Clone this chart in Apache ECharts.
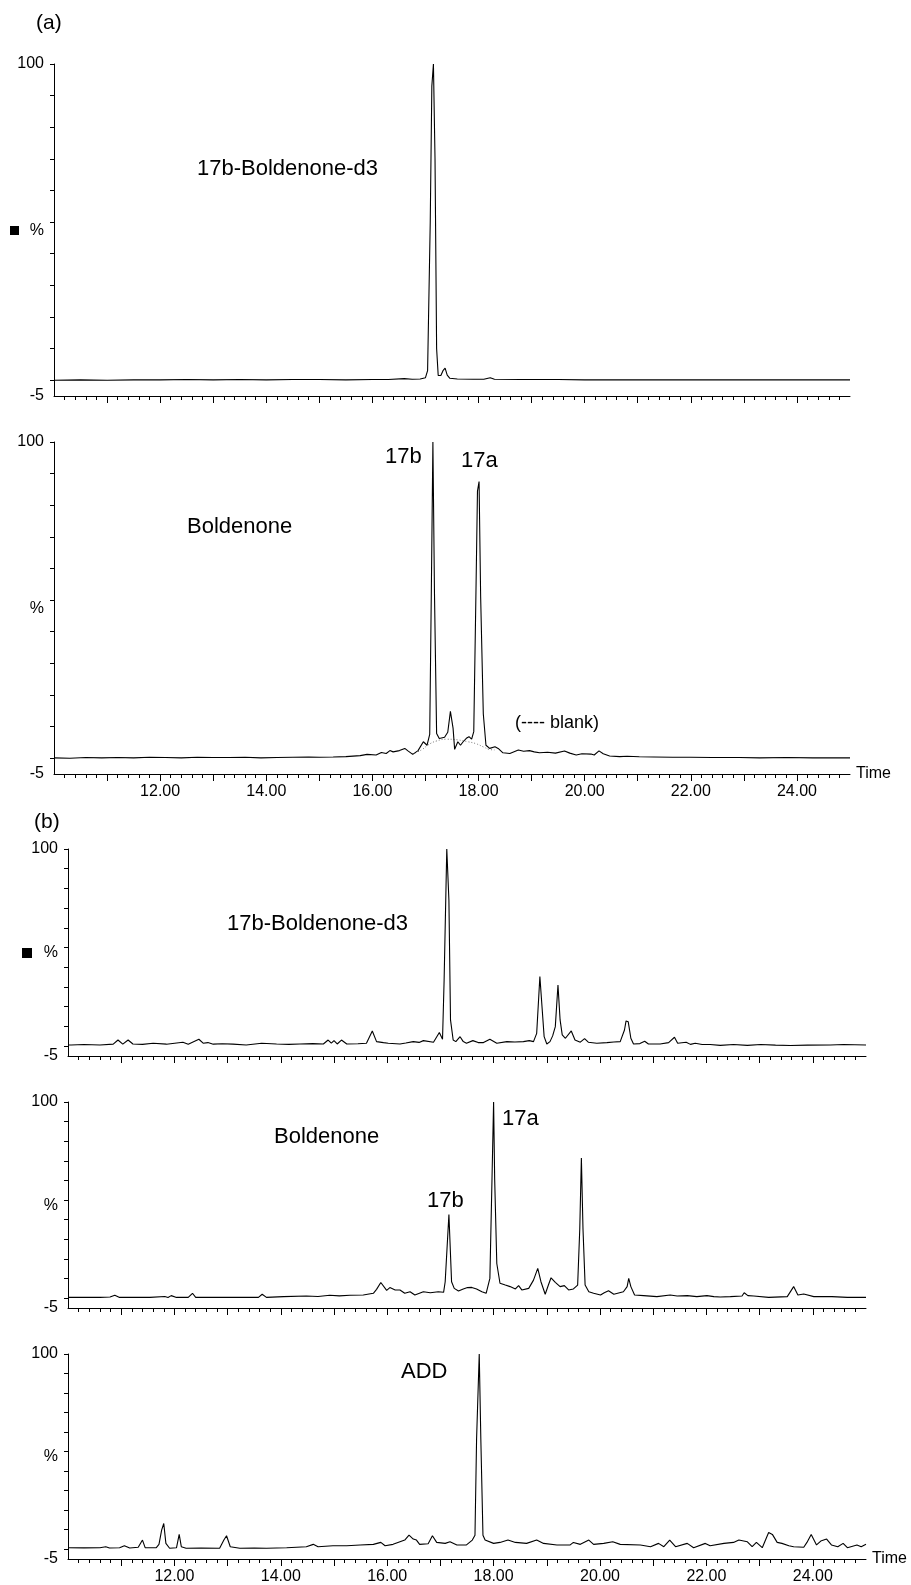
<!DOCTYPE html>
<html>
<head>
<meta charset="utf-8">
<script src="https://cdn.jsdelivr.net/npm/echarts@6/dist/echarts.min.js"></script>
<style>
  html, body { margin: 0; padding: 0; background: #fff; }
  #chart { width: 911px; height: 1585px; }
</style>
</head>
<body>
<div id="chart"></div>
<script>
// ---- Data (time in min, intensity in %) ----
const a1Trace = [
  [10.0,0],[10.5,0.1],[11.0,0],[11.5,0.1],[12.0,0.1],[12.5,0.2],[13.0,0.1],[13.5,0.2],[14.0,0.1],[14.5,0.2],
  [15.0,0.2],[15.5,0.1],[16.0,0.2],[16.3,0.2],[16.6,0.5],[16.75,0.3],[16.9,0.4],[17.0,0.8],[17.04,3],
  [17.09,50],[17.12,93],[17.15,100],[17.18,70],[17.21,10],[17.24,1.5],[17.29,1.5],[17.33,3],[17.37,3.8],
  [17.41,1.6],[17.46,0.6],[17.6,0.4],[17.9,0.3],[18.1,0.3],[18.22,0.8],[18.3,0.3],[18.8,0.2],[19.5,0.2],
  [20.0,0.1],[21.0,0.1],[22.0,0.1],[23.0,0.1],[24.0,0.1],[25.0,0.1]
];
const a2Trace = [
  [10.0,0.1],[10.3,0.0],[10.6,0.2],[10.9,0.1],[11.2,0.2],[11.5,0.1],[11.8,0.3],[12.1,0.2],[12.4,0.1],[12.7,0.3],
  [13.0,0.2],[13.3,0.2],[13.6,0.3],[13.9,0.1],[14.2,0.2],[14.5,0.3],[14.8,0.4],[15.0,0.3],[15.26,0.4],[15.5,0.5],
  [15.77,0.8],[15.9,1.2],[16.07,1.0],[16.17,1.8],[16.26,1.5],[16.33,2.4],[16.39,2.0],[16.51,2.4],[16.61,3.1],
  [16.67,2.3],[16.76,1.2],[16.86,2.4],[16.96,5.2],[17.03,4.1],[17.08,7.5],[17.11,52],[17.14,100],[17.17,52],
  [17.21,7.8],[17.26,6.2],[17.36,6.6],[17.42,8.2],[17.47,14.8],[17.52,9.5],[17.55,2.8],[17.61,5.2],[17.66,4.1],
  [17.71,5.2],[17.77,6.3],[17.82,6.8],[17.87,6.0],[17.91,8.4],[17.95,51],[17.98,84.5],[18.01,87.5],[18.04,51],
  [18.09,14],[18.14,4.1],[18.21,3.1],[18.31,3.6],[18.37,3.1],[18.46,1.7],[18.59,1.5],[18.75,2.6],[18.85,2.2],
  [18.96,2.4],[19.05,2.0],[19.15,1.7],[19.3,1.9],[19.45,1.6],[19.62,2.3],[19.72,1.6],[19.84,1.0],[19.95,1.4],
  [20.12,1.3],[20.18,1.0],[20.27,2.3],[20.35,1.4],[20.47,0.7],[20.66,0.5],[20.8,0.6],[21.03,0.45],[21.3,0.4],
  [21.66,0.3],[22.0,0.3],[22.4,0.2],[22.91,0.2],[23.3,0.1],[23.8,0.2],[24.3,0.1],[25.0,0.1]
];
const a2Blank = [
  [16.75,1.4],[16.85,2.0],[16.95,2.9],[17.05,4.2],[17.2,5.4],[17.4,6.0],[17.6,5.8],[17.8,5.2],
  [17.95,4.6],[18.1,3.5],[18.2,2.8],[18.3,2.6]
];
const b1Trace = [
  [10.0,0.6],[10.06,0.6],[10.3,0.8],[10.6,0.6],[10.85,1],[10.94,3.1],[11.03,1],[11.13,3.1],[11.22,1.1],[11.4,0.9],
  [11.6,1.5],[11.85,1],[12.16,2],[12.26,1],[12.46,3.5],[12.54,1.5],[12.63,1.8],[12.73,1],[12.9,1.2],[13.1,1],
  [13.35,0.6],[13.64,1.5],[13.92,1.1],[14.15,0.9],[14.36,1.1],[14.6,1.3],[14.8,1.1],[14.89,3.1],[14.95,1.5],
  [15.0,2.8],[15.06,1.1],[15.14,3.1],[15.24,1.1],[15.45,1.2],[15.61,1.5],[15.72,7.7],[15.8,2.3],[15.93,1.8],
  [16.02,1.5],[16.24,1.1],[16.35,1.6],[16.49,2.3],[16.6,1.9],[16.68,2.8],[16.87,2],[16.98,6.9],[17.04,3.5],
  [17.07,33.6],[17.12,100],[17.16,74],[17.19,13.3],[17.24,3.1],[17.29,2.3],[17.37,4.8],[17.43,2.3],[17.49,1.5],
  [17.61,2.8],[17.71,1.8],[17.81,1.8],[17.93,3.5],[18.06,1.5],[18.25,2.3],[18.4,2.1],[18.56,2.3],[18.67,2.8],
  [18.75,2.3],[18.81,6.5],[18.87,35.3],[18.91,20],[18.95,4.8],[19.0,1.1],[19.06,2.3],[19.11,5.2],[19.16,9.9],
  [19.21,31],[19.25,13.3],[19.29,5.7],[19.35,4],[19.46,7.7],[19.53,3.1],[19.63,2],[19.71,3.8],[19.78,2],
  [19.94,1.5],[20.13,1.8],[20.26,2.1],[20.38,2.3],[20.46,8.2],[20.49,12.8],[20.53,12.4],[20.58,4],[20.63,1.1],
  [20.75,1.3],[20.84,2.5],[20.91,1.1],[21.13,1.1],[21.29,1.8],[21.4,4.5],[21.46,1.5],[21.62,2],[21.7,0.9],
  [21.79,1.5],[21.92,0.8],[22.07,0.8],[22.26,0.4],[22.51,0.8],[22.77,0.4],[23.02,0.8],[23.3,0.5],[23.58,0.3],
  [23.9,0.5],[24.33,0.6],[24.58,0.8],[25.0,0.6]
];
const b2Trace = [
  [10.0,0.4],[10.3,0.5],[10.6,0.4],[10.79,0.6],[10.88,1.5],[10.97,0.4],[11.2,0.5],[11.54,0.4],[11.82,0.9],
  [11.88,0.4],[11.94,1.3],[12.04,0.4],[12.26,0.4],[12.34,2.5],[12.4,0.4],[12.7,0.5],[13.1,0.4],[13.58,0.4],
  [13.65,2],[13.73,0.4],[14.05,0.8],[14.48,1.1],[14.7,0.9],[14.92,1.5],[15.1,1.2],[15.3,1.5],[15.55,1.6],
  [15.74,2.5],[15.8,4.5],[15.88,8.0],[15.99,4.0],[16.05,5.4],[16.15,4.2],[16.24,4.2],[16.33,2.5],[16.43,3.3],
  [16.52,1.6],[16.68,3.3],[16.81,2.8],[16.96,3.3],[17.06,3],[17.09,8.4],[17.16,42.7],[17.21,8.4],[17.26,5],
  [17.34,3.7],[17.43,4.7],[17.51,5.4],[17.59,5.5],[17.68,4.7],[17.78,3.3],[17.86,2.5],[17.93,10.1],[17.97,60.9],
  [18.0,100],[18.02,60.9],[18.06,17.7],[18.12,7.6],[18.22,6.7],[18.31,5.9],[18.41,4.7],[18.47,6.4],[18.53,4.2],
  [18.66,5],[18.75,9.2],[18.83,15.2],[18.89,8.4],[18.97,2],[19.03,6.7],[19.08,10.4],[19.16,8.1],[19.25,5.9],
  [19.33,6.4],[19.41,4.2],[19.5,4.7],[19.58,6.7],[19.62,35.5],[19.65,71.4],[19.68,35.5],[19.72,6.7],[19.79,3.3],
  [19.88,2.5],[20.01,1.6],[20.08,2.8],[20.16,3.8],[20.26,2],[20.44,3.3],[20.51,5.9],[20.54,10.1],[20.58,5.9],
  [20.65,1.6],[20.82,1.3],[21.07,0.8],[21.32,1.6],[21.45,1.1],[21.64,1.3],[21.82,0.8],[22.01,1.3],[22.14,0.8],
  [22.26,0.6],[22.45,0.8],[22.67,1.1],[22.71,2.8],[22.78,1.3],[22.89,1.1],[23.17,0.4],[23.52,0.8],[23.64,5.9],
  [23.72,1.6],[23.83,2.1],[24.02,0.8],[24.36,0.8],[24.65,0.4],[25.0,0.4]
];
const b3Trace = [
  [10.0,0.8],[10.3,0.7],[10.6,0.8],[10.71,1.3],[10.78,0.6],[10.97,0.8],[11.06,1.8],[11.16,0.6],[11.32,1],
  [11.4,4.7],[11.45,0.8],[11.66,0.8],[11.71,2.5],[11.76,9.8],[11.8,13.2],[11.84,3],[11.91,0.5],[12.04,0.8],
  [12.09,7.6],[12.13,1.3],[12.22,0.5],[12.5,0.6],[12.85,0.5],[12.93,4.7],[12.98,6.9],[13.05,1.3],[13.23,0.5],
  [13.5,0.6],[13.73,0.5],[14.11,0.8],[14.48,1.3],[14.61,2.5],[14.7,1.3],[14.98,1.8],[15.24,1.8],[15.49,2.2],
  [15.74,2.5],[15.88,3.5],[15.96,1.8],[16.11,2.5],[16.24,3.8],[16.33,4.7],[16.41,7.2],[16.49,5.2],[16.55,4.7],
  [16.61,2.5],[16.77,2.8],[16.85,6.9],[16.93,3.5],[17.09,3],[17.18,3.8],[17.31,2.2],[17.49,2.2],[17.6,4.7],
  [17.65,7.2],[17.68,56.3],[17.73,100],[17.76,56.3],[17.8,7.2],[17.84,4.7],[18.0,3],[18.12,3.5],[18.27,4.7],
  [18.41,3.5],[18.62,3],[18.81,4.7],[18.94,3],[19.19,2.2],[19.44,2.2],[19.5,3.5],[19.63,2.5],[19.79,4.7],
  [19.88,2.5],[20.07,3],[20.24,3.8],[20.38,2.5],[20.76,2.2],[20.95,1.3],[21.1,3],[21.2,1.3],[21.31,4.7],
  [21.42,1.3],[21.64,3],[21.76,0.8],[21.98,3],[22.07,1.8],[22.33,3],[22.51,3.5],[22.61,4.7],[22.77,3.8],
  [22.86,1.3],[22.94,3.5],[23.05,0.8],[23.17,8.6],[23.24,7.6],[23.33,3.5],[23.42,3],[23.55,1.8],[23.64,1.3],
  [23.83,1],[23.89,3.5],[23.97,7.6],[24.07,2.2],[24.15,4.2],[24.26,5.2],[24.35,2.2],[24.47,1.3],[24.57,3],
  [24.65,0.8],[24.83,2.2],[24.91,1.3],[25.0,2.5]
];

// ---- Axis ticks / labels ----
const xMajorTicks = [11,12,13,14,15,16,17,18,19,20,21,22,23,24];
const xLabelValues = [12,14,16,18,20,22,24];
const yTickValues = [0,10,20,30,40,50,60,70,80,90,100];
const yLabelValues = [-5, 47.4, 100];
const yLabelText = {'-5': '-5', '47.4': '%', '100': '100'};

// ---- Panels (layout) ----
const panels = [
  {trace: a1Trace, left: 54, width: 796, top: 64, height: 332, labels: false},
  {trace: a2Trace, left: 54, width: 796, top: 442, height: 332, labels: true, blank: a2Blank},
  {trace: b1Trace, left: 68, width: 798, top: 849, height: 207, labels: false},
  {trace: b2Trace, left: 68, width: 798, top: 1102, height: 206, labels: false},
  {trace: b3Trace, left: 68, width: 798, top: 1354, height: 206, labels: true}
];

const FONT = '"Liberation Sans", Arial, Helvetica, sans-serif';
const grid = [], xAxis = [], yAxis = [], series = [];
panels.forEach((p, i) => {
  grid.push({left: p.left, top: p.top, width: p.width, height: p.height, containLabel: false});
  xAxis.push({
    type: 'value', gridIndex: i, min: 10, max: 25, interval: 1,
    name: p.labels ? 'Time' : '', nameLocation: 'end', nameGap: 6,
    nameTextStyle: {fontFamily: FONT, fontSize: 16, color: '#000', verticalAlign: 'middle', padding: [0,0,0,0]},
    axisLine: {show: true, onZero: false, lineStyle: {color: '#000', width: 1}},
    axisTick: {show: true, length: 7, customValues: xMajorTicks, lineStyle: {color: '#000', width: 1}},
    minorTick: {show: true, splitNumber: 5, length: 4, lineStyle: {color: '#000', width: 1}},
    splitLine: {show: false},
    axisLabel: {
      show: p.labels, customValues: xLabelValues, margin: 10,
      fontFamily: FONT, fontSize: 16, color: '#000',
      formatter: v => v.toFixed(2)
    }
  });
  yAxis.push({
    type: 'value', gridIndex: i, min: -5, max: 100,
    axisLine: {show: true, lineStyle: {color: '#000', width: 1}},
    axisTick: {show: true, length: 4, customValues: yTickValues, lineStyle: {color: '#000', width: 1}},
    splitLine: {show: false},
    axisLabel: {
      show: true, customValues: yLabelValues, margin: 10,
      fontFamily: FONT, fontSize: 16, color: '#000',
      formatter: v => yLabelText[String(v)] || ''
    }
  });
  if (p.blank) {
    series.push({
      type: 'line', xAxisIndex: i, yAxisIndex: i, data: p.blank,
      showSymbol: false, smooth: true, silent: true,
      lineStyle: {color: '#777', width: 1, type: [1, 2]}, z: 1
    });
  }
  series.push({
    type: 'line', xAxisIndex: i, yAxisIndex: i, data: p.trace,
    showSymbol: false, smooth: false, silent: true,
    lineStyle: {color: '#000', width: 1.1}, z: 2
  });
});

function txt(text, x, y, size) {
  return {type: 'text', x: x, y: y, silent: true,
    style: {text: text, fill: '#000', fontFamily: FONT, fontSize: size, verticalAlign: 'middle', align: 'left'}};
}
const graphic = [
  txt('(a)', 36, 23, 21),
  txt('17b-Boldenone-d3', 197, 169, 22),
  txt('Boldenone', 187, 527, 22),
  txt('17b', 385, 457, 22),
  txt('17a', 461, 461, 22),
  txt('(---- blank)', 515, 723, 18),
  txt('(b)', 34, 822, 21),
  txt('17b-Boldenone-d3', 227, 924, 22),
  txt('Boldenone', 274, 1137, 22),
  txt('17b', 427, 1201, 22),
  txt('17a', 502, 1119, 22),
  txt('ADD', 401, 1372, 22),
  {type: 'rect', shape: {x: 10, y: 226, width: 9, height: 9}, style: {fill: '#000'}, silent: true},
  {type: 'rect', shape: {x: 22, y: 948, width: 10, height: 10}, style: {fill: '#000'}, silent: true}
];

const chart = echarts.init(document.getElementById('chart'), null, {renderer: 'canvas'});
chart.setOption({
  animation: false,
  backgroundColor: '#fff',
  grid: grid, xAxis: xAxis, yAxis: yAxis, series: series, graphic: graphic
});
</script>
</body>
</html>
